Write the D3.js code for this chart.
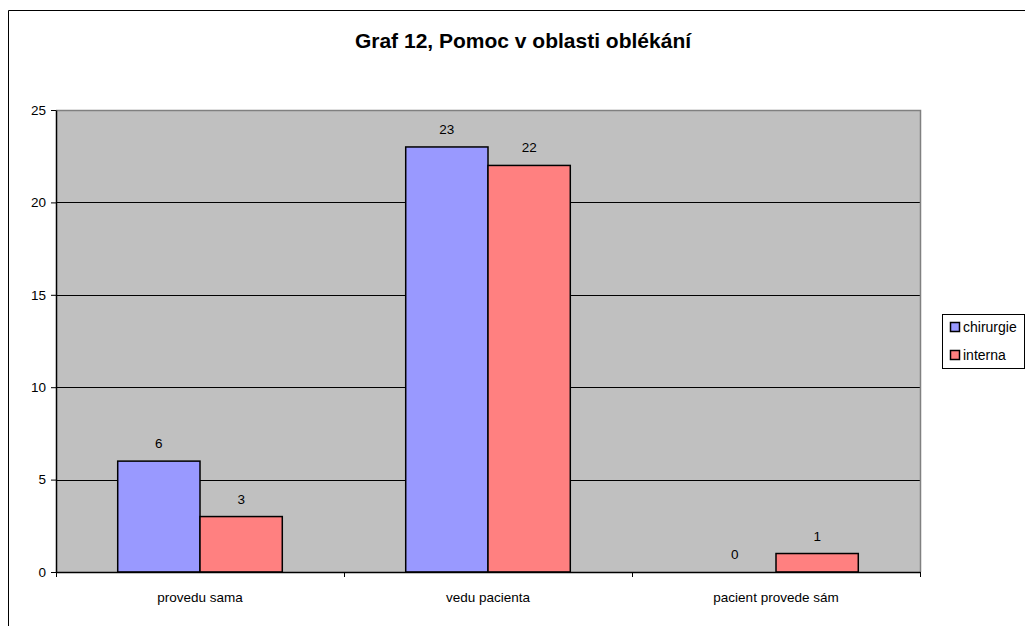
<!DOCTYPE html>
<html>
<head>
<meta charset="utf-8">
<script src="https://cdn.jsdelivr.net/npm/d3@7"></script>
<style>
  html, body { margin: 0; padding: 0; background: #fff; }
  svg { display: block; font-family: "Liberation Sans", Arial, sans-serif; }
</style>
</head>
<body>
<svg id="chart" width="1025" height="626"></svg>
<script>
const titleText = "Graf 12, Pomoc v oblasti oblékání";
const categories = ["provedu sama", "vedu pacienta", "pacient provede sám"];
const seriesNames = ["chirurgie", "interna"];
const chirurgie = [6, 23, 0];
const interna = [3, 22, 1];
const yTicks = [0, 5, 10, 15, 20, 25];
const colors = ["#9999ff", "#ff8080"];

const series = [chirurgie, interna];
const svg = d3.select("#chart");
const fontSize = 13.5;

// outer chart frame (left and top edges)
svg.append("path")
  .attr("d", "M8.5,626 V10.5 H1025")
  .attr("fill", "none").attr("stroke", "#000").attr("stroke-width", 1);

const plot = { left: 56, right: 920, top: 110, bottom: 572 };

const x0 = d3.scaleBand().domain(categories).range([plot.left, plot.right]).paddingInner(0).paddingOuter(0);
const x1 = d3.scaleBand().domain(seriesNames)
  .range([0, x0.bandwidth()]).paddingInner(0).paddingOuter(0.75);
const y = d3.scaleLinear().domain([0, 25]).range([plot.bottom, plot.top]);

// plot background
svg.append("rect")
  .attr("x", plot.left).attr("y", plot.top)
  .attr("width", plot.right - plot.left).attr("height", plot.bottom - plot.top)
  .attr("fill", "#c0c0c0");

// horizontal gridlines
svg.append("g").selectAll("line").data(yTicks.filter(t => t > 0 && t < 25)).join("line")
  .attr("x1", plot.left).attr("x2", plot.right)
  .attr("y1", d => Math.round(y(d)) + 0.5).attr("y2", d => Math.round(y(d)) + 0.5)
  .attr("stroke", "#000").attr("stroke-width", 1);

// plot border top/right in gray
svg.append("path")
  .attr("d", `M${plot.left},${plot.top + 0.5} H${plot.right + 0.5} V${plot.bottom}`)
  .attr("fill", "none").attr("stroke", "#808080").attr("stroke-width", 1.5);

// bars
const groups = svg.append("g").selectAll("g").data(categories).join("g")
  .attr("transform", d => `translate(${x0(d)},0)`);

groups.selectAll("rect")
  .data((c, i) => seriesNames.map((s, j) => ({ s, v: series[j][i], j })))
  .join("rect")
  .filter(d => d.v > 0)
  .attr("x", d => x1(d.s))
  .attr("y", d => y(d.v))
  .attr("width", x1.bandwidth())
  .attr("height", d => y(0) - y(d.v))
  .attr("fill", d => colors[d.j])
  .attr("stroke", "#000").attr("stroke-width", 1.5);

// value labels
groups.selectAll("text")
  .data((c, i) => seriesNames.map((s, j) => ({ s, v: series[j][i], j })))
  .join("text")
  .attr("x", d => x1(d.s) + x1.bandwidth() / 2)
  .attr("y", d => y(d.v) - 13)
  .attr("text-anchor", "middle")
  .attr("font-size", fontSize).attr("fill", "#000")
  .text(d => d.v);

// y axis
const yAxis = svg.append("g")
  .attr("transform", `translate(${plot.left},0)`)
  .call(d3.axisLeft(y).tickValues(yTicks).tickSize(5).tickSizeOuter(0).tickPadding(5));
yAxis.select(".domain").attr("stroke", "#000").attr("stroke-width", 1.5);
yAxis.selectAll(".tick line").attr("stroke", "#000");
yAxis.selectAll(".tick text").attr("font-size", fontSize).attr("font-family", "Liberation Sans, Arial, sans-serif").attr("fill", "#000");

// x axis
const xAxis = svg.append("g")
  .attr("transform", `translate(0,${plot.bottom})`)
  .call(d3.axisBottom(x0).tickSize(0).tickPadding(20));
xAxis.select(".domain").attr("stroke", "#000").attr("stroke-width", 1.5);
xAxis.selectAll(".tick text").attr("font-size", fontSize).attr("font-family", "Liberation Sans, Arial, sans-serif").attr("fill", "#000");
// category boundary ticks
svg.append("g").selectAll("line")
  .data(categories.map(c => x0(c)).concat([plot.right]))
  .join("line")
  .attr("x1", d => d + 0.5).attr("x2", d => d + 0.5)
  .attr("y1", plot.bottom).attr("y2", plot.bottom + 5)
  .attr("stroke", "#000");

// title
svg.append("text")
  .attr("x", 523).attr("y", 48)
  .attr("text-anchor", "middle")
  .attr("font-size", 21).attr("font-weight", "bold")
  .text(titleText);

// legend
const legend = svg.append("g");
legend.append("rect")
  .attr("x", 942.5).attr("y", 314.5).attr("width", 82).attr("height", 54)
  .attr("fill", "#fff").attr("stroke", "#000").attr("stroke-width", 1);
const items = legend.selectAll("g").data(seriesNames).join("g")
  .attr("transform", (d, i) => `translate(950,${322 + i * 28})`);
items.append("rect")
  .attr("x", 0.5).attr("y", 0.5).attr("width", 9).attr("height", 9)
  .attr("fill", (d, i) => colors[i]).attr("stroke", "#000").attr("stroke-width", 1.5);
items.append("text")
  .attr("x", 13).attr("y", 10)
  .attr("font-size", 14).text(d => d);
</script>
</body>
</html>
